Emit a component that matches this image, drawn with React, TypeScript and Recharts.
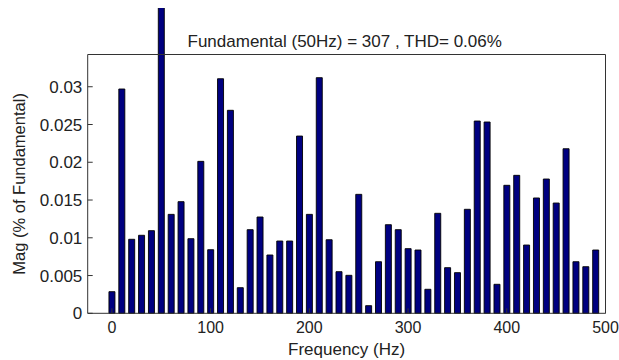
import React from 'react';
import { BarChart, Bar, XAxis, YAxis, Label } from 'recharts';

const frequencies = [
  0, 10, 20, 30, 40, 50, 60, 70, 80, 90,
  100, 110, 120, 130, 140, 150, 160, 170, 180, 190,
  200, 210, 220, 230, 240, 250, 260, 270, 280, 290,
  300, 310, 320, 330, 340, 350, 360, 370, 380, 390,
  400, 410, 420, 430, 440, 450, 460, 470, 480, 490,
];

const magnitudes = [
  0.00286, 0.0297, 0.0098, 0.01033, 0.01094, 100, 0.0131, 0.01478, 0.00988, 0.02012,
  0.00842, 0.03106, 0.02688, 0.00339, 0.01107, 0.01275, 0.00772, 0.00957, 0.00957, 0.02347,
  0.0131, 0.0312, 0.00974, 0.00551, 0.00503, 0.01575, 0.00101, 0.00683, 0.01173, 0.01107,
  0.00856, 0.00838, 0.00318, 0.01324, 0.00604, 0.00538, 0.01377, 0.02546, 0.02533, 0.00384,
  0.01695, 0.01827, 0.00904, 0.01527, 0.01778, 0.0146, 0.02179, 0.00683, 0.00617, 0.00838,
];

const xTicks = [0, 100, 200, 300, 400, 500];
const yTicks = [0, 0.005, 0.01, 0.015, 0.02, 0.025, 0.03];
const yTickLabels = ['0', '0.005', '0.01', '0.015', '0.02', '0.025', '0.03'];

const titleText = 'Fundamental (50Hz) = 307 , THD= 0.06%';
const xLabelText = 'Frequency (Hz)';
const yLabelText = 'Mag (% of Fundamental)';

const data = frequencies.map((f, i) => ({ freq: f, mag: magnitudes[i] }));

const FONT = '"Liberation Sans", Arial, Helvetica, sans-serif';
const TEXT = '#222';
const AXIS = '#333';
const X_DOMAIN: [number, number] = [-24.5, 500];
const Y_DOMAIN: [number, number] = [0, 0.03427];

export default function App() {
  const xTickStyle = { fontSize: 16, fill: TEXT, fontFamily: FONT };
  const yTickStyle = { fontSize: 17, fill: TEXT, fontFamily: FONT };
  return (
    <div style={{ position: 'absolute', left: 8, top: 8, width: 611, height: 352 }}>
      <style>{`.recharts-bar, .recharts-bar [clip-path], .recharts-bar-rectangles { clip-path: none !important; }`}</style>
      <BarChart
        width={611}
        height={352}
        data={data}
        margin={{ top: 45.5, right: 12.5, left: 0, bottom: 16.7 }}
        style={{ fontFamily: FONT }}
      >
        <XAxis
          xAxisId="bottom"
          dataKey="freq"
          type="number"
          domain={X_DOMAIN}
          allowDataOverflow
          ticks={xTicks}
          interval={0}
          height={30}
          stroke={AXIS}
          tickSize={-5}
          tickMargin={12.9}
          tick={xTickStyle}
        >
          <Label
            value={xLabelText}
            position="center"
            dy={20.7}
            style={{ fontSize: 17, fill: TEXT, fontFamily: FONT }}
          />
        </XAxis>
        <XAxis
          xAxisId="top"
          orientation="top"
          dataKey="freq"
          type="number"
          domain={X_DOMAIN}
          allowDataOverflow
          ticks={xTicks}
          interval={0}
          height={1}
          stroke={AXIS}
          tickSize={-5}
          tick={false}
        >
          <Label
            value={titleText}
            position="center"
            dx={-1.9}
            dy={-13}
            style={{ fontSize: 17, fill: TEXT, fontFamily: FONT }}
          />
        </XAxis>
        <YAxis
          yAxisId="left"
          type="number"
          domain={Y_DOMAIN}
          allowDataOverflow
          ticks={yTicks}
          interval={0}
          width={79.7}
          stroke={AXIS}
          tickSize={-5}
          tickMargin={10.4}
          tick={yTickStyle}
          tickFormatter={(v: number, i: number) => yTickLabels[i] ?? String(v)}
        >
          <Label
            value={yLabelText}
            angle={-90}
            position="center"
            dx={-28.85}
            style={{ fontSize: 16.5, fill: TEXT, fontFamily: FONT, textAnchor: 'middle' }}
          />
        </YAxis>
        <YAxis
          yAxisId="right"
          orientation="right"
          type="number"
          domain={Y_DOMAIN}
          allowDataOverflow
          ticks={yTicks}
          interval={0}
          width={1}
          stroke={AXIS}
          tickSize={-5}
          tick={false}
        />
        <Bar
          xAxisId="bottom"
          yAxisId="left"
          dataKey="mag"
          barSize={6}
          fill="#000080"
          stroke="#000000"
          strokeWidth={0.9}
          isAnimationActive={false}
        />
      </BarChart>
    </div>
  );
}
